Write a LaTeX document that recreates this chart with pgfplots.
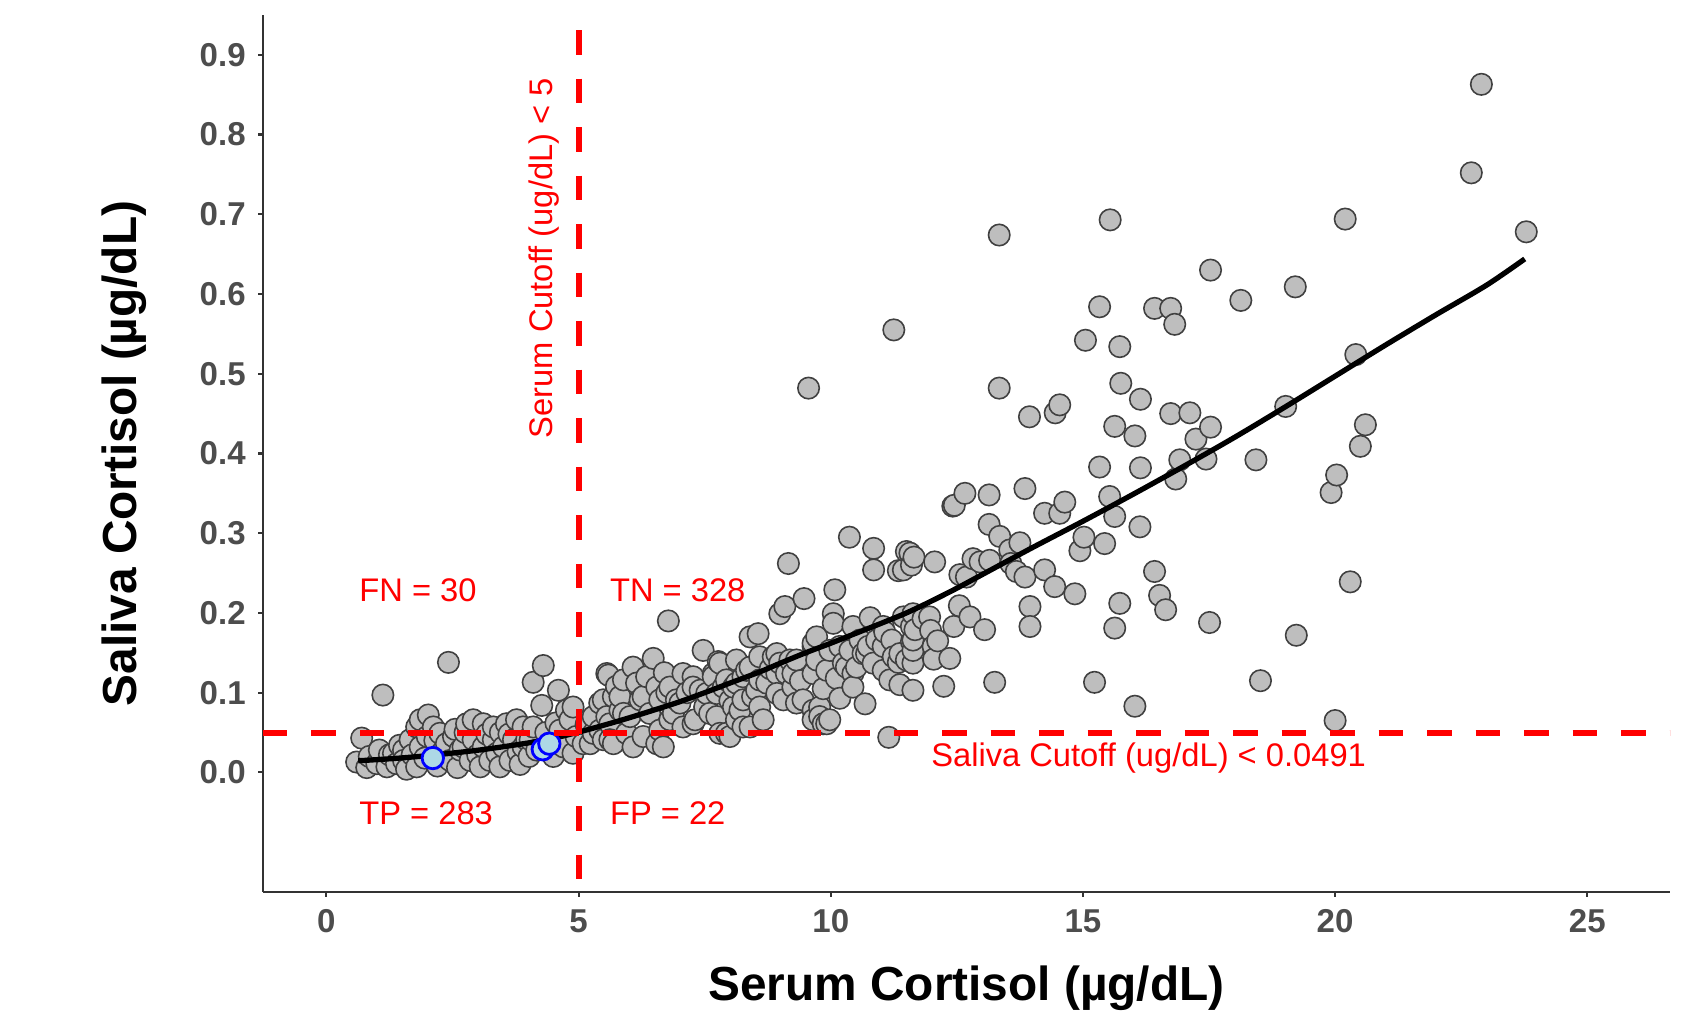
\documentclass[border=0pt]{standalone}
\usepackage{fontspec}
\setmainfont{Liberation Sans}
\usepackage{pgfplots}
\pgfplotsset{compat=1.18}
\usepackage{pgfplotstable}

\definecolor{tickgray}{HTML}{4D4D4D}
\definecolor{ptgray}{HTML}{BEBEBE}
\definecolor{cutred}{HTML}{FF0000}
\definecolor{hifill}{HTML}{ADD8E6}
\definecolor{hiedge}{HTML}{0000FF}

% serum (x) vs saliva (y) cortisol
\pgfplotstableread{
x y
0.60 0.013
0.70 0.043
0.80 0.006
0.85 0.020
1.00 0.011
1.05 0.028
1.12 0.097
1.20 0.007
1.25 0.022
1.33 0.024
1.39 0.011
1.45 0.034
1.53 0.028
1.53 0.015
1.59 0.004
1.66 0.041
1.70 0.022
1.79 0.057
1.79 0.007
1.86 0.066
1.86 0.032
1.95 0.018
2.00 0.045
2.02 0.072
2.12 0.057
2.15 0.040
2.20 0.008
2.25 0.049
2.30 0.026
2.38 0.036
2.42 0.138
2.45 0.015
2.52 0.045
2.55 0.054
2.60 0.006
2.65 0.028
2.71 0.032
2.75 0.050
2.78 0.061
2.85 0.015
2.91 0.041
2.91 0.066
3.00 0.022
3.05 0.007
3.11 0.032
3.11 0.061
3.18 0.048
3.24 0.015
3.31 0.041
3.31 0.057
3.38 0.024
3.44 0.007
3.45 0.050
3.51 0.032
3.57 0.061
3.62 0.048
3.64 0.015
3.71 0.041
3.77 0.066
3.80 0.026
3.84 0.010
3.90 0.032
3.90 0.057
3.97 0.041
4.02 0.020
4.04 0.041
4.10 0.057
4.10 0.113
4.17 0.028
4.27 0.084
4.30 0.134
4.35 0.050
4.50 0.020
4.55 0.062
4.60 0.103
4.63 0.053
4.70 0.032
4.76 0.078
4.83 0.066
4.89 0.082
4.89 0.024
4.95 0.045
5.09 0.036
5.15 0.060
5.23 0.036
5.29 0.049
5.29 0.070
5.42 0.087
5.42 0.053
5.49 0.041
5.49 0.091
5.56 0.124
5.56 0.070
5.59 0.122
5.62 0.061
5.62 0.041
5.69 0.095
5.69 0.036
5.75 0.108
5.82 0.078
5.82 0.095
5.89 0.116
5.89 0.074
5.95 0.049
6.02 0.070
6.08 0.132
6.08 0.032
6.15 0.112
6.22 0.091
6.28 0.095
6.28 0.045
6.35 0.120
6.41 0.074
6.48 0.143
6.55 0.036
6.55 0.107
6.61 0.053
6.61 0.091
6.68 0.032
6.70 0.125
6.75 0.100
6.78 0.190
6.81 0.066
6.81 0.107
6.88 0.074
6.94 0.091
7.01 0.087
7.07 0.124
7.07 0.057
7.15 0.100
7.27 0.120
7.27 0.061
7.27 0.107
7.31 0.066
7.41 0.103
7.47 0.153
7.50 0.082
7.54 0.099
7.60 0.074
7.67 0.124
7.67 0.120
7.74 0.099
7.74 0.070
7.77 0.139
7.80 0.049
7.80 0.137
7.87 0.107
7.93 0.116
7.93 0.049
8.00 0.045
8.00 0.090
8.07 0.082
8.07 0.107
8.13 0.141
8.13 0.066
8.13 0.112
8.20 0.078
8.26 0.120
8.26 0.091
8.26 0.057
8.33 0.128
8.40 0.132
8.40 0.057
8.40 0.170
8.45 0.095
8.53 0.103
8.56 0.174
8.59 0.145
8.59 0.116
8.59 0.082
8.66 0.066
8.73 0.112
8.80 0.130
8.86 0.145
8.93 0.149
8.93 0.124
8.93 0.099
8.99 0.137
8.99 0.199
9.06 0.091
9.09 0.208
9.12 0.124
9.16 0.262
9.19 0.141
9.25 0.107
9.25 0.124
9.32 0.141
9.32 0.087
9.40 0.115
9.45 0.091
9.47 0.218
9.56 0.482
9.65 0.078
9.65 0.066
9.65 0.124
9.65 0.158
9.65 0.162
9.72 0.170
9.72 0.141
9.78 0.082
9.78 0.070
9.85 0.061
9.85 0.105
9.92 0.128
9.92 0.061
9.98 0.153
9.98 0.066
10.05 0.199
10.05 0.187
10.08 0.229
10.11 0.118
10.18 0.093
10.18 0.158
10.25 0.137
10.31 0.132
10.37 0.295
10.38 0.153
10.44 0.183
10.44 0.124
10.44 0.107
10.51 0.132
10.58 0.166
10.64 0.149
10.68 0.086
10.71 0.149
10.74 0.158
10.78 0.194
10.84 0.137
10.85 0.281
10.85 0.254
10.91 0.166
11.04 0.128
11.04 0.158
11.04 0.183
11.07 0.176
11.15 0.044
11.17 0.116
11.21 0.166
11.24 0.145
11.25 0.555
11.34 0.253
11.34 0.138
11.37 0.149
11.37 0.110
11.44 0.195
11.44 0.254
11.50 0.141
11.50 0.277
11.57 0.275
11.60 0.183
11.60 0.164
11.60 0.260
11.63 0.137
11.63 0.153
11.63 0.166
11.63 0.199
11.63 0.103
11.65 0.270
11.67 0.179
11.83 0.193
11.96 0.195
11.98 0.178
12.03 0.158
12.04 0.142
12.06 0.264
12.12 0.165
12.24 0.108
12.36 0.143
12.42 0.334
12.44 0.183
12.45 0.335
12.55 0.209
12.56 0.248
12.66 0.350
12.69 0.245
12.76 0.195
12.82 0.268
12.96 0.264
13.05 0.179
13.14 0.311
13.14 0.348
13.15 0.266
13.25 0.113
13.34 0.674
13.34 0.482
13.35 0.296
13.55 0.279
13.57 0.262
13.68 0.252
13.75 0.288
13.85 0.245
13.85 0.356
13.94 0.446
13.95 0.208
13.95 0.183
14.24 0.325
14.24 0.254
14.44 0.233
14.45 0.451
14.54 0.461
14.54 0.325
14.64 0.339
14.84 0.224
14.94 0.278
15.02 0.295
15.05 0.542
15.23 0.113
15.33 0.584
15.33 0.383
15.43 0.287
15.53 0.346
15.54 0.693
15.63 0.321
15.63 0.434
15.63 0.181
15.73 0.534
15.73 0.212
15.75 0.488
16.03 0.422
16.03 0.083
16.13 0.308
16.14 0.468
16.14 0.382
16.42 0.582
16.42 0.252
16.52 0.222
16.64 0.204
16.74 0.582
16.74 0.450
16.82 0.562
16.84 0.368
16.92 0.392
17.12 0.451
17.24 0.418
17.44 0.393
17.51 0.188
17.53 0.433
17.53 0.630
18.13 0.592
18.43 0.392
18.52 0.115
19.02 0.459
19.21 0.609
19.23 0.172
19.92 0.351
20.00 0.065
20.03 0.373
20.20 0.694
20.30 0.239
20.41 0.524
20.50 0.409
20.60 0.436
22.70 0.752
22.90 0.863
23.79 0.678
}\cortisol

% highlighted samples
\pgfplotstableread{
x y
2.11 0.018
4.29 0.029
4.42 0.036
}\highlight

% smooth fit
\pgfplotstableread{
x y
0.63 0.0146
1.00 0.0160
1.50 0.0182
2.12 0.0217
3.00 0.0278
3.70 0.0340
4.37 0.0410
5.03 0.0510
5.82 0.0650
6.41 0.0765
7.00 0.0885
7.50 0.1000
8.00 0.1120
8.59 0.1260
9.00 0.1370
9.50 0.1500
10.00 0.1620
10.50 0.1745
11.04 0.1880
11.50 0.2000
12.00 0.2150
12.50 0.2310
13.00 0.2480
14.00 0.2820
15.00 0.3150
16.00 0.3490
17.00 0.3840
18.00 0.4200
19.00 0.4580
20.00 0.4970
21.00 0.5360
22.00 0.5740
23.00 0.6110
23.76 0.6440
}\fitcurve

\begin{document}
\begin{tikzpicture}
\begin{axis}[
  width=140.7mm, height=87.7mm, scale only axis,
  xmin=-1.257, xmax=26.64, ymin=-0.15, ymax=0.95,
  clip marker paths=true,
  axis lines=left,
  axis line style={-, black!80, line width=0.6pt},
  xtick={0,5,10,15,20,25},
  ytick={0,0.1,0.2,0.3,0.4,0.5,0.6,0.7,0.8,0.9},
  yticklabel style={/pgf/number format/.cd, fixed, fixed zerofill, precision=1},
  /pgf/number format/assume math mode=true,
  tick label style={font=\fontsize{9.4}{11}\selectfont\bfseries, text=tickgray},
  tick align=outside, major tick length=1.4pt,
  tick style={black!80, line width=0.6pt},
  xlabel={Serum Cortisol (µg/dL)},
  ylabel={Saliva Cortisol (µg/dL)},
  label style={font=\fontsize{13.6}{16}\selectfont\bfseries},
  xlabel style={at={(axis description cs:0.5,-0.1095)}, anchor=center},
  ylabel style={at={(axis description cs:-0.0988,0.5)}, anchor=center},
]
\addplot[only marks, mark=*, mark size=3.05pt,
  mark options={fill=ptgray, draw=black!75, line width=0.45pt}] table {\cortisol};
\addplot[black, line width=1.5pt, no marks, smooth] table {\fitcurve};
\addplot[only marks, mark=*, mark size=3.05pt,
  mark options={fill=hifill, draw=hiedge, line width=0.8pt}] table {\highlight};

\draw[cutred, line width=1.7pt, dash pattern=on 2.45mm off 2.4mm]
  (axis cs:5,0.931) -- (axis cs:5,-0.15);
\draw[cutred, line width=1.7pt, dash pattern=on 2.45mm off 2.4mm]
  (axis cs:-1.257,0.0491) -- (axis cs:26.64,0.0491);

\begin{scope}[every node/.style={text=cutred, font=\fontsize{9.3}{11}\selectfont, inner sep=0pt}]
\node[anchor=west] at (axis cs:0.64,0.2283) {FN = 30};
\node[anchor=west] at (axis cs:5.61,0.2283) {TN = 328};
\node[anchor=west] at (axis cs:0.64,-0.0514) {TP = 283};
\node[anchor=west] at (axis cs:5.61,-0.0514) {FP = 22};
\node[anchor=west] at (axis cs:11.98,0.0175) {Saliva Cutoff (ug/dL) < 0.0491};
\node[anchor=east, rotate=90] at (axis cs:4.31,0.8716) {Serum Cutoff (ug/dL) < 5};
\end{scope}
\end{axis}
\pgfresetboundingbox
\path[use as bounding box] ([shift={(-26.3mm,-12.5mm)}]current axis.south west) rectangle ++(168.9mm,101.7mm);
\end{tikzpicture}
\end{document}
